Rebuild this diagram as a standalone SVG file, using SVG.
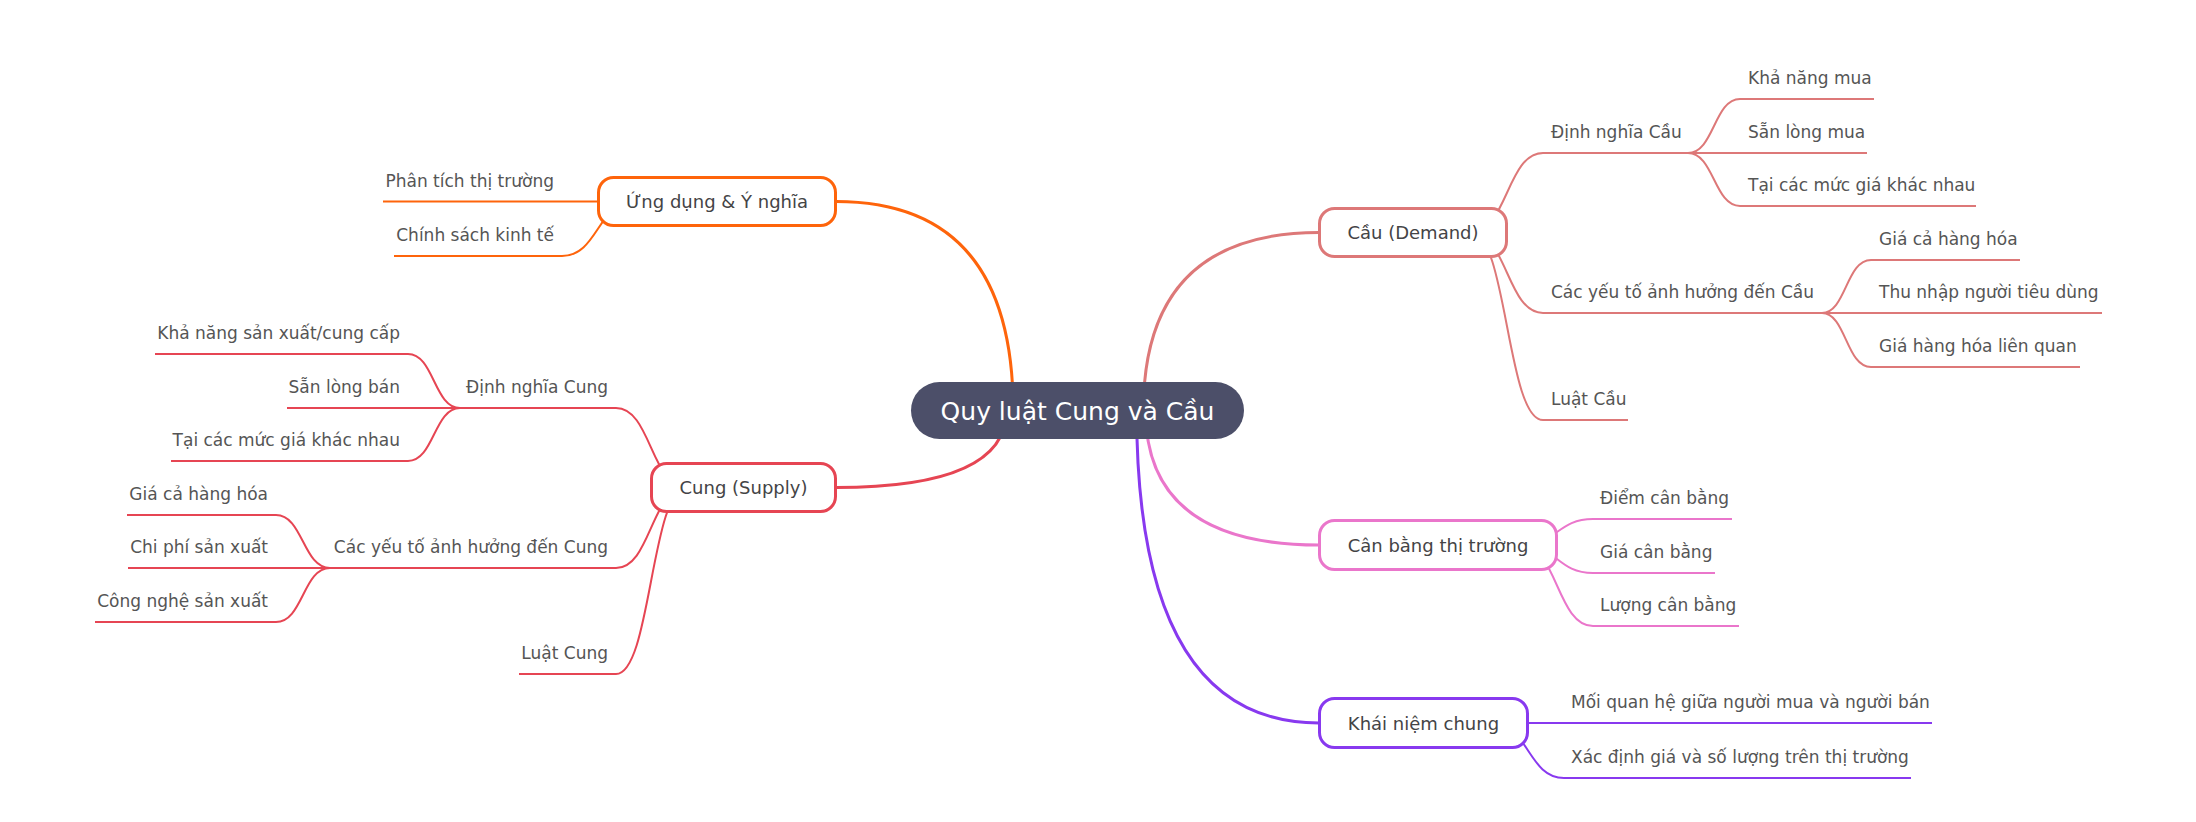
<svg xmlns="http://www.w3.org/2000/svg" width="2196" height="822" viewBox="0 0 2196 822">
<style>
text{font-family:"DejaVu Sans","Noto Sans",sans-serif}
.rl{fill:none;stroke-width:3;stroke-linecap:round}
.sl{fill:none;stroke-width:2}
.mr{fill:#ffffff;stroke-width:3}
.mt{font-size:18px;fill:#444446;text-anchor:middle}
.st{font-size:17px;fill:#555555}
.se{font-size:17px;fill:#555555;text-anchor:end}
.c0{stroke:#dd7878}.c1{stroke:#ea76cb}.c2{stroke:#8839ef}.c3{stroke:#e64553}.c4{stroke:#fe640b}
</style>
<rect width="2196" height="822" fill="#ffffff"/>
<g id="connectors">
  <path class="rl c0" d="M1143.4,410.5 Q1143.4,232.5 1319,232.5"/>
  <path class="rl c1" d="M1145.6,410.5 Q1145.6,545 1319,545"/>
  <path class="rl c2" d="M1136.6,410.5 Q1136.6,723 1319,723"/>
  <path class="rl c3" d="M1006.5,410.5 Q1006.5,487.5 836,487.5"/>
  <path class="rl c4" d="M1013.2,410.5 Q1013.2,201.5 836,201.5"/>

  <path class="sl c0" d="M1471,232.5 C1507,232.5 1507,153 1543,153 H1688"/>
  <path class="sl c0" d="M1688,153 C1714,153 1714,99 1740,99 H1874"/>
  <path class="sl c0" d="M1688,153 H1867"/>
  <path class="sl c0" d="M1688,153 C1714,153 1714,206 1740,206 H1976"/>
  <path class="sl c0" d="M1471,232.5 C1507,232.5 1507,313 1543,313 H1822"/>
  <path class="sl c0" d="M1822,313 C1846,313 1846,260 1871,260 H2020"/>
  <path class="sl c0" d="M1822,313 H2102"/>
  <path class="sl c0" d="M1822,313 C1846,313 1846,367 1871,367 H2080"/>
  <path class="sl c0" d="M1471,232.5 C1507,232.5 1507,420 1543,420 H1628"/>

  <path class="sl c1" d="M1521,545 C1557,545 1557,519 1593,519 H1732"/>
  <path class="sl c1" d="M1521,545 C1557,545 1557,573 1593,573 H1715"/>
  <path class="sl c1" d="M1521,545 C1557,545 1557,626 1593,626 H1739"/>

  <path class="sl c2" d="M1492,723 H1932"/>
  <path class="sl c2" d="M1492,723 C1528,723 1528,778 1564,778 H1911"/>

  <path class="sl c4" d="M634,201.5 H383"/>
  <path class="sl c4" d="M634,201.5 C598,201.5 598,256 562,256 H394"/>

  <path class="sl c3" d="M687,487.5 C651,487.5 651,408 616,408 H460"/>
  <path class="sl c3" d="M460,408 C434,408 434,354 408,354 H155"/>
  <path class="sl c3" d="M460,408 H287"/>
  <path class="sl c3" d="M460,408 C434,408 434,461 408,461 H171"/>
  <path class="sl c3" d="M687,487.5 C651,487.5 651,568 616,568 H330"/>
  <path class="sl c3" d="M330,568 C303,568 303,515 276,515 H127"/>
  <path class="sl c3" d="M330,568 H128"/>
  <path class="sl c3" d="M330,568 C303,568 303,622 276,622 H95"/>
  <path class="sl c3" d="M687,487.5 C651,487.5 651,674 616,674 H519"/>
</g>

<g id="root">
  <rect x="911" y="382" width="333" height="57" rx="28.5" fill="#4c4f69"/>
  <text x="1077.5" y="420" font-size="25" fill="#ffffff" text-anchor="middle">Quy luật Cung và Cầu</text>
</g>

<g id="node-cau">
  <rect class="mr c0" x="1319.5" y="208.5" width="187" height="48" rx="15"/>
  <text class="mt" x="1413" y="239">Cầu (Demand)</text>
</g>
<g id="node-canbang">
  <rect class="mr c1" x="1319.5" y="520.5" width="237" height="49" rx="15"/>
  <text class="mt" x="1438" y="551.5">Cân bằng thị trường</text>
</g>
<g id="node-khainiem">
  <rect class="mr c2" x="1319.5" y="698.5" width="208" height="49" rx="15"/>
  <text class="mt" x="1423.5" y="729.5">Khái niệm chung</text>
</g>
<g id="node-cung">
  <rect class="mr c3" x="651.5" y="463.5" width="184" height="48" rx="15"/>
  <text class="mt" x="743.5" y="494">Cung (Supply)</text>
</g>
<g id="node-ungdung">
  <rect class="mr c4" x="598.5" y="177.5" width="237" height="48" rx="15"/>
  <text class="mt" x="717" y="208">Ứng dụng &amp; Ý nghĩa</text>
</g>

<g id="node-dinhnghiacau"><text class="st" x="1551" y="137.5">Định nghĩa Cầu</text></g>
<g id="node-khanangmua"><text class="st" x="1748" y="83.5">Khả năng mua</text></g>
<g id="node-sanlongmua"><text class="st" x="1748" y="137.5">Sẵn lòng mua</text></g>
<g id="node-taicacmuc-cau"><text class="st" x="1748" y="190.5">Tại các mức giá khác nhau</text></g>
<g id="node-cacyeuto-cau"><text class="st" x="1551" y="297.5">Các yếu tố ảnh hưởng đến Cầu</text></g>
<g id="node-giaca-cau"><text class="st" x="1879" y="244.5">Giá cả hàng hóa</text></g>
<g id="node-thunhap"><text class="st" x="1879" y="297.5">Thu nhập người tiêu dùng</text></g>
<g id="node-lienquan"><text class="st" x="1879" y="351.5">Giá hàng hóa liên quan</text></g>
<g id="node-luatcau"><text class="st" x="1551" y="404.5">Luật Cầu</text></g>

<g id="node-diemcanbang"><text class="st" x="1600" y="503.5">Điểm cân bằng</text></g>
<g id="node-giacanbang"><text class="st" x="1600" y="557.5">Giá cân bằng</text></g>
<g id="node-luongcanbang"><text class="st" x="1600" y="610.5">Lượng cân bằng</text></g>

<g id="node-moiquanhe"><text class="st" x="1571" y="707.5">Mối quan hệ giữa người mua và người bán</text></g>
<g id="node-xacdinh"><text class="st" x="1571" y="762.5">Xác định giá và số lượng trên thị trường</text></g>

<g id="node-phantich"><text class="se" x="554" y="186.5">Phân tích thị trường</text></g>
<g id="node-chinhsach"><text class="se" x="554" y="240.5">Chính sách kinh tế</text></g>

<g id="node-dinhnghiacung"><text class="se" x="608" y="392.5">Định nghĩa Cung</text></g>
<g id="node-khanangsx"><text class="se" x="400" y="338.5">Khả năng sản xuất/cung cấp</text></g>
<g id="node-sanlongban"><text class="se" x="400" y="392.5">Sẵn lòng bán</text></g>
<g id="node-taicacmuc-cung"><text class="se" x="400" y="445.5">Tại các mức giá khác nhau</text></g>
<g id="node-cacyeuto-cung"><text class="se" x="608" y="552.5">Các yếu tố ảnh hưởng đến Cung</text></g>
<g id="node-giaca-cung"><text class="se" x="268" y="499.5">Giá cả hàng hóa</text></g>
<g id="node-chiphi"><text class="se" x="268" y="552.5">Chi phí sản xuất</text></g>
<g id="node-congnghe"><text class="se" x="268" y="606.5">Công nghệ sản xuất</text></g>
<g id="node-luatcung"><text class="se" x="608" y="658.5">Luật Cung</text></g>
</svg>
